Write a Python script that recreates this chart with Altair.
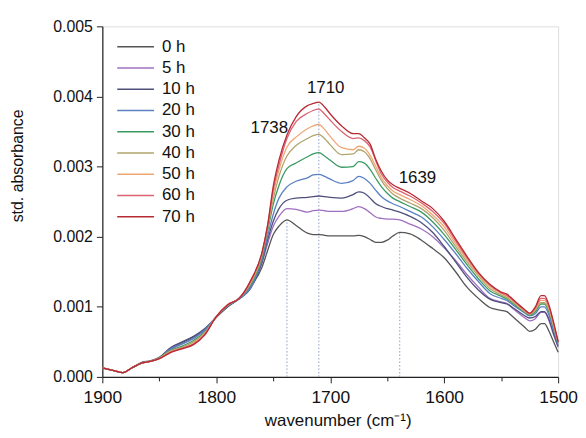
import altair as alt
import pandas as pd

# wavenumber grid (cm-1)
wavenumber = [1900, 1890, 1882, 1875, 1865, 1858, 1850, 1840, 1830, 1820, 1810, 1800,
              1790, 1780, 1770, 1760, 1755, 1750, 1745, 1738, 1730, 1720, 1715, 1710,
              1705, 1700, 1690, 1680, 1675, 1670, 1665, 1660, 1655, 1650, 1645, 1639,
              1630, 1620, 1610, 1600, 1590, 1580, 1570, 1560, 1550, 1545, 1540, 1530,
              1525, 1520, 1515, 1512, 1508, 1504, 1500]

# std. absorbance values in units of 1e-3
h0 = [0.13, 0.09, 0.06, 0.12, 0.20, 0.22, 0.27, 0.40, 0.49, 0.57, 0.67, 0.85,
      1.00, 1.12, 1.28, 1.56, 1.80, 2.03, 2.15, 2.24, 2.16, 2.05, 2.03, 2.03,
      2.02, 2.01, 2.01, 2.01, 2.02, 2.00, 1.96, 1.92, 1.92, 1.95, 2.01, 2.06,
      2.04, 1.95, 1.83, 1.70, 1.50, 1.28, 1.12, 0.99, 0.95, 0.93, 0.86, 0.72,
      0.65, 0.68, 0.76, 0.76, 0.65, 0.50, 0.35]
h5 = [0.13, 0.09, 0.06, 0.12, 0.20, 0.22, 0.27, 0.39, 0.47, 0.55, 0.66, 0.85,
      1.01, 1.12, 1.28, 1.62, 1.90, 2.15, 2.29, 2.40, 2.39, 2.35, 2.37, 2.38,
      2.37, 2.36, 2.36, 2.40, 2.43, 2.40, 2.34, 2.28, 2.26, 2.25, 2.25, 2.24,
      2.18, 2.11, 2.00, 1.84, 1.66, 1.46, 1.28, 1.12, 1.07, 1.05, 0.98, 0.85,
      0.80, 0.83, 0.92, 0.92, 0.80, 0.60, 0.42]
h10 = [0.13, 0.09, 0.06, 0.12, 0.21, 0.23, 0.28, 0.42, 0.50, 0.58, 0.69, 0.85,
       1.00, 1.11, 1.26, 1.63, 1.95, 2.22, 2.40, 2.52, 2.55, 2.56, 2.57, 2.58,
       2.57, 2.56, 2.55, 2.60, 2.64, 2.62, 2.55, 2.47, 2.43, 2.40, 2.38, 2.35,
       2.29, 2.20, 2.06, 1.86, 1.64, 1.42, 1.24, 1.11, 1.06, 1.04, 0.99, 0.88,
       0.84, 0.86, 0.93, 0.93, 0.82, 0.62, 0.44]
h20 = [0.13, 0.09, 0.06, 0.12, 0.20, 0.22, 0.27, 0.40, 0.47, 0.55, 0.67, 0.86,
       1.01, 1.11, 1.27, 1.66, 2.00, 2.32, 2.55, 2.71, 2.79, 2.84, 2.88, 2.89,
       2.86, 2.82, 2.76, 2.80, 2.86, 2.83, 2.76, 2.66, 2.57, 2.51, 2.47, 2.43,
       2.36, 2.28, 2.14, 1.96, 1.76, 1.55, 1.36, 1.19, 1.12, 1.09, 1.03, 0.92,
       0.87, 0.90, 1.00, 1.00, 0.88, 0.66, 0.46]
h30 = [0.13, 0.09, 0.06, 0.12, 0.20, 0.22, 0.27, 0.38, 0.44, 0.52, 0.64, 0.86,
       1.02, 1.12, 1.31, 1.70, 2.08, 2.46, 2.73, 2.97, 3.05, 3.14, 3.18, 3.20,
       3.15, 3.09, 2.99, 3.00, 3.07, 3.05, 2.96, 2.83, 2.71, 2.62, 2.55, 2.50,
       2.43, 2.35, 2.21, 2.03, 1.82, 1.60, 1.40, 1.23, 1.15, 1.11, 1.05, 0.93,
       0.88, 0.93, 1.04, 1.04, 0.92, 0.70, 0.48]
h40 = [0.13, 0.09, 0.06, 0.12, 0.20, 0.22, 0.27, 0.37, 0.42, 0.50, 0.63, 0.86,
       1.02, 1.12, 1.33, 1.73, 2.12, 2.54, 2.86, 3.15, 3.30, 3.40, 3.44, 3.46,
       3.40, 3.31, 3.17, 3.18, 3.24, 3.21, 3.11, 2.95, 2.80, 2.69, 2.61, 2.55,
       2.48, 2.40, 2.27, 2.09, 1.86, 1.64, 1.44, 1.26, 1.17, 1.13, 1.07, 0.94,
       0.89, 0.95, 1.06, 1.06, 0.95, 0.72, 0.49]
h50 = [0.13, 0.09, 0.06, 0.12, 0.20, 0.22, 0.26, 0.36, 0.41, 0.48, 0.62, 0.86,
       1.03, 1.12, 1.35, 1.75, 2.14, 2.61, 2.95, 3.28, 3.42, 3.54, 3.58, 3.60,
       3.53, 3.43, 3.27, 3.24, 3.29, 3.26, 3.16, 3.00, 2.84, 2.73, 2.65, 2.60,
       2.53, 2.44, 2.31, 2.14, 1.90, 1.67, 1.46, 1.29, 1.19, 1.15, 1.09, 0.95,
       0.90, 0.97, 1.09, 1.09, 0.97, 0.74, 0.50]
h60 = [0.13, 0.09, 0.06, 0.12, 0.20, 0.22, 0.26, 0.35, 0.41, 0.47, 0.61, 0.86,
       1.03, 1.12, 1.36, 1.76, 2.15, 2.67, 3.02, 3.40, 3.64, 3.76, 3.80, 3.82,
       3.75, 3.66, 3.50, 3.40, 3.41, 3.37, 3.28, 3.08, 2.89, 2.78, 2.70, 2.65,
       2.58, 2.48, 2.36, 2.19, 1.94, 1.70, 1.48, 1.31, 1.20, 1.16, 1.10, 0.96,
       0.90, 0.98, 1.12, 1.12, 1.00, 0.76, 0.50]
h70 = [0.13, 0.09, 0.06, 0.12, 0.20, 0.22, 0.26, 0.35, 0.40, 0.46, 0.60, 0.86,
       1.03, 1.12, 1.37, 1.77, 2.16, 2.72, 3.09, 3.45, 3.71, 3.87, 3.90, 3.92,
       3.85, 3.75, 3.58, 3.47, 3.47, 3.41, 3.32, 3.10, 2.93, 2.81, 2.74, 2.69,
       2.62, 2.51, 2.40, 2.22, 1.97, 1.72, 1.49, 1.32, 1.21, 1.18, 1.11, 0.97,
       0.91, 1.00, 1.16, 1.16, 1.02, 0.78, 0.50]

series_labels = ["0 h", "5 h", "10 h", "20 h", "30 h", "40 h", "50 h", "60 h", "70 h"]
series_values = [h0, h5, h10, h20, h30, h40, h50, h60, h70]
series_colors = ["#555555", "#a070c0", "#4e4e7a", "#5a80c4", "#3a9a62",
                 "#b0a46c", "#f0a674", "#dc6272", "#b82a32"]

# marked bands: position (cm-1) and top of dotted guide (1e-3)
band_pos = [1738, 1710, 1639]
band_top = [2.24, 3.92, 2.06]
band_text = ["1738", "1710", "1639"]
label_x = [1753.5, 1704, 1623.5]
label_y = [3.55, 4.12, 2.84]

rows = []
for lab, vals in zip(series_labels, series_values):
    for w, v in zip(wavenumber, vals):
        rows.append({"wn": w, "absorbance": v / 1000.0, "time": lab})
df = pd.DataFrame(rows)

bands = pd.DataFrame({"wn": band_pos, "top": [t / 1000.0 for t in band_top],
                      "bottom": [0.0] * len(band_pos)})
labels = pd.DataFrame({"wn": label_x, "y": [v / 1000.0 for v in label_y],
                       "text": band_text})

FONT = "Liberation Sans"

x_axis = alt.Axis(
    values=[1900, 1850, 1800, 1750, 1700, 1650, 1600, 1550, 1500],
    labelExpr="datum.value % 100 == 0 ? datum.label : ''",
    format="d", labelFlush=False, labelOverlap=False,
    tickSize={"condition": {"test": "datum.value % 100 == 0", "value": 6}, "value": 4},
    labelFontSize=17.5, labelFont=FONT, labelColor="#111", labelPadding=6,
    title="wavenumber (cm⁻¹)", titleFontSize=17, titleFont=FONT,
    titleFontWeight="normal", titleColor="#111",
    titleX=237, titleY=44, titleBaseline="middle",
    grid=False, domainColor="#222", tickColor="#222", domainWidth=1.2,
)
y_axis = alt.Axis(
    values=[0, 0.0005, 0.001, 0.0015, 0.002, 0.0025, 0.003, 0.0035, 0.004, 0.0045, 0.005],
    labelExpr="abs(datum.value * 1000 - round(datum.value * 1000)) < 0.01 ? format(datum.value, '.3f') : ''",
    labelFlush=False, labelOverlap=False,
    tickSize={"condition": {"test": "abs(datum.value * 1000 - round(datum.value * 1000)) < 0.01", "value": 6}, "value": 4},
    labelFontSize=16, labelFont=FONT, labelColor="#111", labelPadding=4,
    title="std. absorbance", titleFontSize=16, titleFont=FONT,
    titleFontWeight="normal", titleColor="#111",
    titleX=-85, titleY=140, titleAngle=270, titleAlign="center", titleBaseline="middle",
    grid=False, domainColor="#222", tickColor="#222", domainWidth=1.2,
)

xs = alt.Scale(domain=[1500, 1900], reverse=True, nice=False, zero=False)
ys = alt.Scale(domain=[0, 0.005], nice=False)

lines = alt.Chart(df).mark_line(strokeWidth=1.3, interpolate="monotone").encode(
    x=alt.X("wn:Q", scale=xs, axis=x_axis),
    y=alt.Y("absorbance:Q", scale=ys, axis=y_axis),
    color=alt.Color(
        "time:N",
        scale=alt.Scale(domain=series_labels, range=series_colors),
        legend=alt.Legend(
            title=None, orient="none", legendX=25, legendY=12,
            symbolType="M-3.7,0H3.7", symbolSize=100, symbolStrokeWidth=1.5,
            labelFontSize=17, labelFont=FONT, labelColor="#111",
            labelOffset=18, symbolOffset=0, rowPadding=3.4,
        ),
    ),
    order=alt.Order("wn:Q", sort="descending"),
)

rules = alt.Chart(bands).mark_rule(color="#8f9cc8", strokeDash=[1.5, 2], strokeWidth=1).encode(
    x=alt.X("wn:Q", scale=xs), y=alt.Y("bottom:Q", scale=ys), y2="top:Q"
)

texts = alt.Chart(labels).mark_text(fontSize=17, font=FONT, color="#111").encode(
    x=alt.X("wn:Q", scale=xs), y=alt.Y("y:Q", scale=ys), text="text:N"
)

chart = alt.layer(rules, lines, texts).properties(
    width=459, height=353,
    autosize=alt.AutoSizeParams(type="none"),
    padding={"left": 95, "top": 17, "right": 20, "bottom": 52},
).configure_view(stroke=None).configure(background="white")

chart.save("out.html", embed_options={"renderer": "svg", "actions": False})
